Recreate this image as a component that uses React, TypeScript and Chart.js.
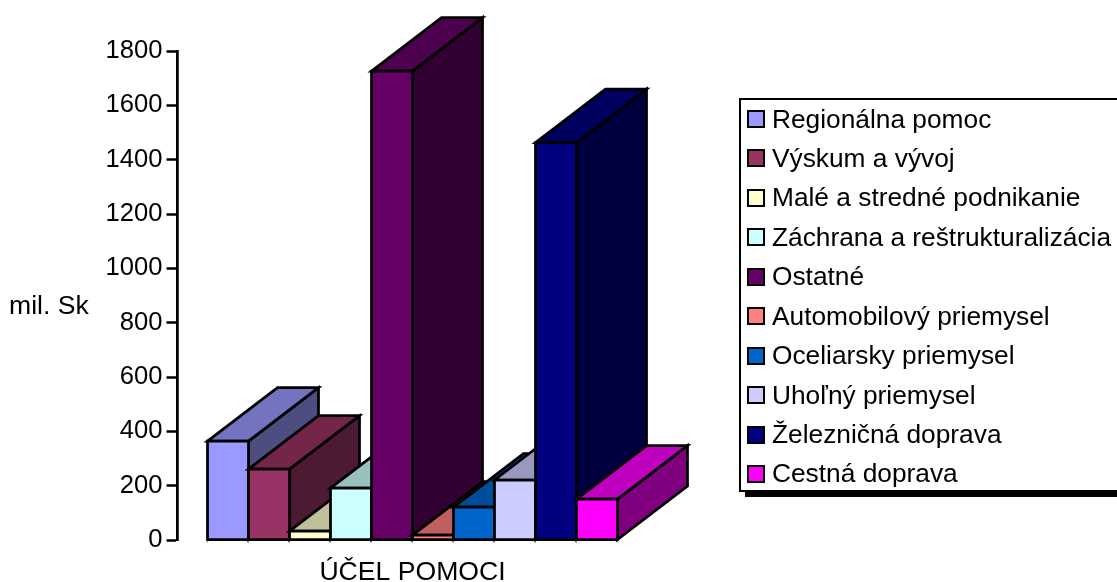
import React, { useEffect, useRef } from "react";
import { Chart, registerables } from "chart.js";

Chart.register(...registerables);

const categories = [
  "Regionálna pomoc",
  "Výskum a vývoj",
  "Malé a stredné podnikanie",
  "Záchrana a reštrukturalizácia",
  "Ostatné",
  "Automobilový priemysel",
  "Oceliarsky priemysel",
  "Uhoľný priemysel",
  "Železničná doprava",
  "Cestná doprava",
];
const values = [364, 261, 33, 191, 1726, 18, 121, 221, 1463, 151];
const frontColors = ["#9999FF", "#993366", "#FFFFCC", "#CCFFFF", "#660066", "#FF8080", "#0066CC", "#CCCCFF", "#000080", "#FF00FF"];
const topColors = ["#7373BF", "#732649", "#BFBF99", "#99BFBF", "#4D004D", "#BF6060", "#004D99", "#9999BF", "#000060", "#BF00BF"];
const sideColors = ["#4D4D80", "#4D1A33", "#808066", "#668080", "#330033", "#804040", "#003366", "#666680", "#000040", "#800080"];
const yTitle = "mil. Sk";
const xTitle = "ÚČEL POMOCI";
const FONT = "'Liberation Sans', Arial, sans-serif";
const FONT_SIZE = 26.6;
const TICK_FONT_SIZE = 25.6;
const LEGEND_FONT_SIZE = 26.3;

const DEPTH_X = 70;
const DEPTH_Y = 53.5;
const AXIS_GAP = 30;

const bars3d = {
  id: "bars3d",
  afterLayout(chart: any) {
    const y = chart.scales.y;
    y.left -= AXIS_GAP;
    y.right -= AXIS_GAP;
  },
  afterDatasetsDraw(chart: any) {
    const { ctx } = chart;
    const meta = chart.getDatasetMeta(0);
    const poly = (pts: number[][], fill: string) => {
      ctx.beginPath();
      pts.forEach((p, i) => (i ? ctx.lineTo(p[0], p[1]) : ctx.moveTo(p[0], p[1])));
      ctx.closePath();
      ctx.fillStyle = fill;
      ctx.fill();
      ctx.stroke();
    };
    ctx.save();
    ctx.strokeStyle = "#000";
    ctx.lineWidth = 2.75;
    ctx.lineJoin = "miter";
    meta.data.forEach((bar: any, i: number) => {
      const w = bar.width;
      const l = bar.x - w / 2;
      const r = bar.x + w / 2;
      const t = bar.y;
      const b = bar.base;
      poly([[r, t], [r + DEPTH_X, t - DEPTH_Y], [r + DEPTH_X, b - DEPTH_Y], [r, b]], sideColors[i]);
      poly([[l, t], [l + DEPTH_X, t - DEPTH_Y], [r + DEPTH_X, t - DEPTH_Y], [r, t]], topColors[i]);
      poly([[l, t], [r, t], [r, b], [l, b]], frontColors[i]);
    });
    ctx.fillStyle = "#000";
    ctx.font = `${FONT_SIZE}px ${FONT}`;
    ctx.textAlign = "left";
    ctx.textBaseline = "middle";
    ctx.fillText(yTitle, 9, 307);
    ctx.restore();
  },
};

export default function App() {
  const ref = useRef<HTMLCanvasElement>(null);
  useEffect(() => {
    const chart = new Chart(ref.current as HTMLCanvasElement, {
      type: "bar",
      data: {
        labels: categories,
        datasets: [
          {
            data: values,
            backgroundColor: "rgba(0,0,0,0)",
            borderWidth: 0,
            barPercentage: 1,
            categoryPercentage: 1,
          },
        ],
      },
      options: {
        responsive: false,
        animation: false,
        layout: { padding: { left: 0, right: 499.5, top: 51, bottom: 0 } },
        plugins: { legend: { display: false }, tooltip: { enabled: false } },
        scales: {
          x: {
            grid: { display: true, drawOnChartArea: false, offset: true, tickLength: 3, tickWidth: 1, tickColor: "#b0b0b0" },
            border: { display: false },
            ticks: { display: false },
            title: { display: true, text: xTitle, color: "#000", font: { family: FONT, size: FONT_SIZE }, padding: { top: 14, bottom: -7 } },
          },
          y: {
            min: 0,
            max: 1800,
            afterFit: (s: any) => {
              s.width = 207.5;
            },
            grid: { drawOnChartArea: false, tickLength: 11, tickWidth: 2.5, tickColor: "#000" },
            border: { display: true, color: "#000", width: 2.75 },
            ticks: { stepSize: 200, color: "#000", padding: 4, font: { family: FONT, size: TICK_FONT_SIZE }, callback: (v: any) => String(v) },
          },
        },
      },
      plugins: [bars3d],
    });
    return () => chart.destroy();
  }, []);

  return (
    <div style={{ position: "fixed", left: 0, top: 0, width: 1117, height: 582, overflow: "hidden", background: "#fff" }}>
      <canvas ref={ref} width={1117} height={582} style={{ display: "block" }} />
      <div
        style={{
          position: "absolute",
          left: 739,
          top: 98,
          width: 400,
          height: 390,
          border: "2.5px solid #000",
          boxShadow: "6px 5px 0 #000",
          background: "#fff",
          fontFamily: FONT,
          fontSize: LEGEND_FONT_SIZE,
          color: "#000",
        }}
      >
        {categories.map((c, i) => (
          <div
            key={c}
            style={{ position: "absolute", left: 6, top: -0.5 + i * 39.44, height: 39, display: "flex", alignItems: "center", whiteSpace: "nowrap" }}
          >
            <span style={{ display: "inline-block", boxSizing: "border-box", width: 18, height: 18, border: "2.5px solid #000", background: frontColors[i], marginRight: 7 }} />
            {c}
          </div>
        ))}
      </div>
    </div>
  );
}
